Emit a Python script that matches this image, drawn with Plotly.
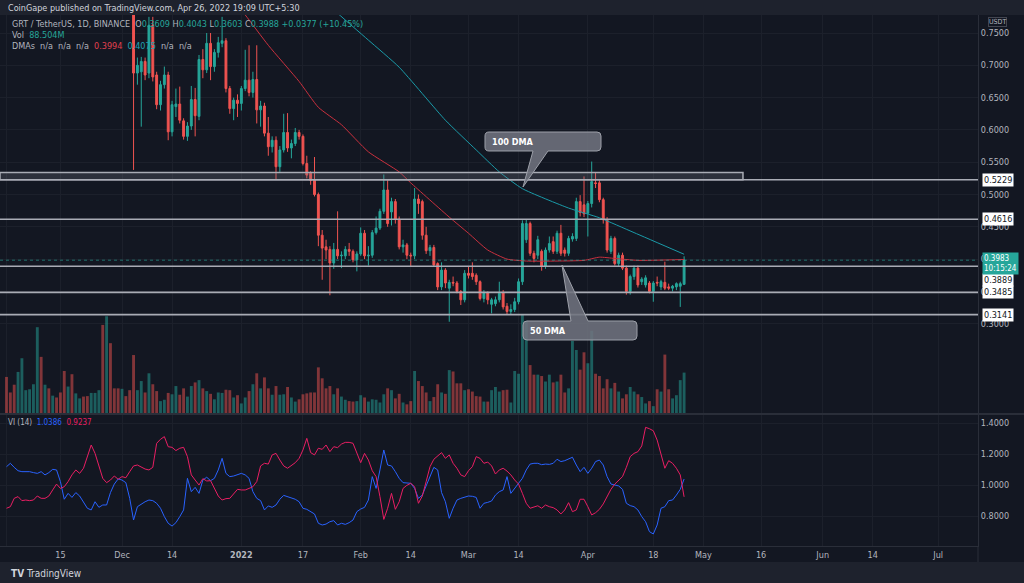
import pandas as pd
import plotly.graph_objects as go

FONT = "Liberation Sans Narrow, DejaVu Sans Condensed, Roboto, sans-serif"
UP = "#26a69a"
DOWN = "#ef5350"
BG = "#131722"
PANEL = "#1e222d"
GRID = "#1c202b"
TXT = "#b2b5be"

# ---- data ----
first_day = "2021-11-01"

opens = [
    .950, .920, .900, .880, .920, .960, .990, 1.020, 1.050, 1.150,
    1.060, 1.090, 1.050, 1.070, 1.030, .990, .930, .960, .920, .940,
    .960, .930, .900, .930, .970, 1.000, .960, 1.080, 1.020, .990,
    .960, .980, .940, .900, .688, .690, .706, .688, .762, .685,
    .639, .670, .685, .597, .636, .640, .614, .590, .606, .647,
    .621, .709, .693, .734, .698, .720, .734, .738, .664, .633,
    .646, .641, .664, .677, .658, .678, .631, .637, .595, .574,
    .584, .543, .569, .596, .572, .579, .596, .590, .548, .533,
    .522, .500, .437, .419, .415, .394, .415, .405, .405, .415,
    .412, .399, .408, .440, .405, .406, .441, .448, .474, .507,
    .473, .489, .462, .419, .422, .406, .405, .493, .489, .437,
    .413, .418, .393, .357, .383, .355, .364, .363, .350, .337,
    .378, .378, .375, .365, .339, .348, .330, .331, .337, .348,
    .327, .319, .322, .334, .365, .430, .455, .409, .406, .412,
    .389, .414, .427, .412, .440, .414, .409, .431, .432, .489,
    .484, .471, .486, .518, .518, .492, .461, .412, .432, .393,
    .406, .386, .350, .373, .386, .365, .360, .363, .350, .364,
    .357, .364, .357, .355, .357, .358, .3609,
]
highs = [
    .962, .930, .908, .925, .968, .998, 1.030, 1.060, 1.180, 1.170,
    1.100, 1.100, 1.080, 1.080, 1.040, 1.000, .970, .965, .948, .970,
    .965, .935, .938, .975, 1.010, 1.080, 1.120, 1.100, 1.030, 1.000,
    .990, .985, .950, .910, .712, .713, .712, .775, .775, .690,
    .676, .698, .690, .645, .664, .667, .618, .612, .668, .665,
    .716, .725, .750, .750, .725, .744, .775, .742, .668, .650,
    .655, .668, .724, .731, .690, .731, .645, .642, .620, .590,
    .590, .575, .625, .626, .585, .603, .600, .593, .560, .536,
    .558, .503, .445, .430, .420, .425, .474, .412, .420, .425,
    .415, .412, .449, .445, .420, .445, .466, .478, .531, .522,
    .495, .493, .466, .430, .425, .410, .510, .500, .492, .450,
    .422, .422, .395, .395, .386, .368, .373, .366, .352, .383,
    .388, .395, .378, .367, .352, .350, .340, .342, .365, .352,
    .332, .330, .340, .370, .460, .461, .458, .413, .436, .415,
    .418, .435, .435, .444, .453, .418, .436, .440, .495, .499,
    .528, .490, .551, .534, .522, .495, .465, .436, .435, .410,
    .410, .390, .376, .390, .390, .372, .375, .366, .366, .373,
    .368, .396, .362, .360, .364, .365, .4043,
]
lows = [
    .912, .895, .870, .872, .912, .950, .982, 1.010, 1.040, 1.040,
    1.045, 1.040, 1.035, 1.020, .980, .915, .920, .905, .910, .932,
    .920, .890, .892, .925, .960, .940, .950, 1.000, .980, .950,
    .950, .930, .895, .538, .670, .605, .677, .680, .675, .632,
    .630, .664, .584, .590, .620, .610, .585, .583, .600, .590,
    .615, .680, .688, .677, .690, .712, .728, .658, .625, .615,
    .620, .630, .660, .652, .650, .610, .605, .590, .560, .565,
    .523, .535, .565, .566, .556, .575, .585, .545, .525, .515,
    .497, .420, .368, .400, .344, .385, .400, .386, .400, .405,
    .395, .381, .405, .400, .390, .402, .438, .445, .470, .450,
    .452, .455, .415, .410, .400, .388, .400, .470, .430, .408,
    .405, .388, .352, .352, .355, .303, .358, .347, .329, .333,
    .370, .368, .360, .336, .333, .330, .316, .327, .333, .322,
    .315, .314, .318, .330, .360, .425, .405, .395, .400, .382,
    .385, .410, .408, .408, .405, .404, .405, .427, .428, .466,
    .465, .435, .480, .510, .488, .455, .410, .408, .390, .388,
    .383, .345, .345, .368, .356, .360, .356, .347, .334, .358,
    .352, .352, .352, .350, .352, .326, .3603,
]
closes = [
    .920, .900, .880, .920, .960, .990, 1.020, 1.050, 1.150, 1.060,
    1.090, 1.050, 1.070, 1.030, .990, .930, .960, .920, .940, .960,
    .930, .900, .930, .970, 1.000, .960, 1.080, 1.020, .990, .960,
    .980, .940, .900, .688, .700, .706, .685, .762, .682, .639,
    .670, .685, .597, .639, .640, .615, .590, .606, .647, .622,
    .709, .693, .734, .698, .720, .735, .738, .664, .633, .646,
    .641, .664, .677, .658, .678, .631, .637, .595, .574, .584,
    .543, .569, .596, .572, .579, .596, .590, .548, .530, .522,
    .500, .437, .417, .414, .394, .415, .405, .406, .415, .412,
    .399, .408, .440, .405, .406, .441, .448, .474, .507, .455,
    .489, .462, .419, .422, .406, .405, .493, .486, .437, .413,
    .418, .391, .357, .383, .363, .364, .363, .350, .337, .378,
    .375, .373, .365, .339, .348, .337, .337, .337, .347, .326,
    .319, .322, .334, .365, .455, .455, .409, .401, .430, .389,
    .414, .424, .412, .440, .409, .409, .432, .435, .489, .472,
    .470, .486, .520, .517, .492, .461, .414, .432, .393, .406,
    .386, .350, .373, .386, .360, .369, .371, .350, .363, .363,
    .365, .355, .355, .358, .362, .362, .3988,
]
volume_m = [
    79, 45, 62, 90, 120, 50, 52, 63, 188, 123,
    62, 54, 38, 34, 45, 92, 58, 85, 43, 32,
    36, 37, 44, 44, 50, 193, 212, 153, 54, 54,
    53, 37, 50, 127, 50, 70, 45, 87, 63, 48,
    26, 29, 44, 41, 59, 40, 54, 36, 59, 67,
    72, 54, 48, 42, 30, 45, 44, 51, 50, 34,
    39, 21, 34, 48, 63, 87, 54, 78, 54, 40,
    59, 40, 41, 57, 34, 25, 30, 41, 43, 45,
    45, 100, 76, 54, 59, 41, 54, 36, 29, 26,
    25, 26, 39, 34, 25, 30, 29, 23, 41, 54,
    50, 32, 42, 23, 19, 26, 92, 70, 59, 45,
    26, 35, 63, 45, 42, 94, 91, 65, 65, 50,
    52, 47, 37, 36, 25, 25, 50, 57, 47, 50,
    51, 23, 92, 86, 217, 202, 105, 84, 84, 81,
    69, 84, 67, 69, 84, 45, 54, 158, 138, 95,
    133, 109, 180, 86, 81, 54, 74, 54, 66, 47,
    32, 41, 57, 47, 41, 35, 21, 26, 15, 52,
    47, 128, 52, 32, 39, 72, 88.504,
]
vi_plus = [
    1.118, 1.140, 1.114, 1.092, 1.086, 1.086, 1.086, 1.080, 1.075, 1.086,
    1.065, 1.080, 1.101, 1.097, 1.022, 0.908, 0.946, 0.920, 0.951, 0.929,
    0.892, 0.850, 0.839, 0.892, 0.856, 0.871, 0.871, 0.951, 1.006, 1.039,
    1.032, 1.015, 0.914, 0.774, 0.860, 0.878, 0.892, 0.903, 0.899, 0.882,
    0.850, 0.796, 0.753, 0.735, 0.757, 0.796, 0.839, 1.043, 0.957, 0.985,
    0.946, 1.032, 1.050, 1.028, 1.043, 1.097, 1.172, 1.075, 1.054, 1.058,
    1.067, 1.075, 1.065, 1.043, 0.957, 0.914, 0.899, 0.839, 0.865, 0.856,
    0.871, 0.908, 0.933, 0.925, 0.914, 0.908, 0.892, 0.850, 0.843, 0.828,
    0.813, 0.753, 0.742, 0.748, 0.763, 0.770, 0.742, 0.753, 0.746, 0.757,
    0.774, 0.828, 0.845, 0.856, 0.903, 1.054, 0.978, 1.097, 1.226, 1.129,
    1.123, 1.086, 1.043, 1.015, 1.011, 1.011, 0.978, 0.914, 0.935, 0.994,
    1.054, 1.114, 1.097, 0.951, 0.892, 0.785, 0.850, 0.903, 0.914, 0.920,
    0.929, 0.927, 0.920, 0.850, 0.882, 0.888, 0.897, 0.935, 0.957, 0.968,
    1.054, 0.946, 0.978, 1.015, 1.043, 1.097, 1.135, 1.140, 1.140, 1.131,
    1.135, 1.133, 1.140, 1.166, 1.151, 1.157, 1.166, 1.179, 1.129, 1.086,
    1.114, 1.075, 1.108, 1.151, 1.161, 1.129, 1.054, 1.006, 1.000, 0.994,
    0.972, 0.882, 0.867, 0.860, 0.839, 0.796, 0.763, 0.699, 0.684, 0.742,
    0.850, 0.860, 0.899, 0.903, 0.935, 0.972, 1.0386,
]
vi_minus = [
    0.850, 0.860, 0.914, 0.925, 0.899, 0.903, 0.899, 0.903, 0.929, 0.914,
    0.914, 0.929, 0.968, 1.006, 0.978, 0.989, 1.022, 1.065, 1.097, 1.075,
    1.108, 1.183, 1.258, 1.204, 1.118, 1.043, 1.015, 1.032, 1.058, 1.037,
    1.054, 1.047, 1.086, 1.123, 1.129, 1.114, 1.103, 1.097, 1.114, 1.269,
    1.295, 1.312, 1.247, 1.243, 1.222, 1.237, 1.243, 1.183, 1.065, 1.032,
    1.000, 1.041, 1.026, 1.028, 0.978, 0.929, 0.903, 0.912, 0.914, 0.942,
    0.972, 0.968, 0.968, 0.978, 0.989, 1.022, 1.123, 1.140, 1.135, 1.194,
    1.204, 1.161, 1.123, 1.108, 1.125, 1.144, 1.172, 1.226, 1.301, 1.209,
    1.194, 1.237, 1.230, 1.258, 1.215, 1.247, 1.241, 1.264, 1.275, 1.275,
    1.269, 1.204, 1.144, 1.204, 1.161, 1.092, 1.054, 0.925, 0.778, 0.850,
    0.946, 0.843, 0.892, 0.978, 0.998, 1.011, 0.989, 0.882, 0.929, 1.022,
    1.118, 1.166, 1.187, 1.209, 1.172, 1.194, 1.140, 1.108, 1.065, 1.054,
    1.092, 1.118, 1.183, 1.172, 1.140, 1.148, 1.123, 1.071, 1.097, 1.108,
    1.090, 1.065, 1.032, 1.006, 0.946, 0.882, 0.850, 0.860, 0.866, 0.850,
    0.871, 0.860, 0.854, 0.839, 0.813, 0.839, 0.886, 0.828, 0.839, 0.908,
    0.908, 0.860, 0.807, 0.821, 0.843, 0.878, 0.925, 0.972, 1.006, 1.032,
    1.054, 1.114, 1.183, 1.204, 1.215, 1.252, 1.372, 1.363, 1.350, 1.290,
    1.204, 1.108, 1.157, 1.140, 1.108, 1.065, 0.9237,
]

dma50_dates = ["2021-12-26", "2022-01-02", "2022-01-08", "2022-01-16", "2022-01-21",
               "2022-01-27", "2022-02-03", "2022-02-11", "2022-02-14", "2022-02-24",
               "2022-03-01", "2022-03-06", "2022-03-11", "2022-03-16", "2022-03-24",
               "2022-03-31", "2022-04-04", "2022-04-08", "2022-04-14", "2022-04-26"]
dma50 = [0.827, 0.778, 0.731, 0.675, 0.635, 0.608, 0.566, 0.535, 0.518, 0.465,
         0.440, 0.414, 0.400, 0.397, 0.397, 0.398, 0.403, 0.401, 0.398, 0.3994]
dma100_dates = ["2022-01-20", "2022-01-25", "2022-02-03", "2022-02-11", "2022-02-23",
                "2022-03-03", "2022-03-09", "2022-03-15", "2022-03-27", "2022-04-04",
                "2022-04-13", "2022-04-26"]
dma100 = [0.817, 0.786, 0.739, 0.697, 0.615, 0.569, 0.535, 0.509, 0.479, 0.464,
          0.441, 0.4075]

levels = [0.5229, 0.4616, 0.3889, 0.3485, 0.3141]
zone_top = 0.534
zone_end = "2022-05-11 07:00"
last_price = 0.3983

tick_dates = ["2021-11-01", "2021-11-15", "2021-12-01", "2021-12-14", "2022-01-01",
              "2022-01-17", "2022-02-01", "2022-02-14", "2022-03-01", "2022-03-14",
              "2022-04-01", "2022-04-18", "2022-05-01", "2022-05-16", "2022-06-01",
              "2022-06-14", "2022-07-01"]
tick_text = ["Nov", "15", "Dec", "14", "<b>2022</b>", "17", "Feb", "14", "Mar", "14",
             "Apr", "18", "May", "16", "Jun", "14", "Jul"]
price_ticks = [0.30, 0.35, 0.40, 0.45, 0.50, 0.55, 0.60, 0.65, 0.70, 0.75]
vi_ticks = [0.8, 1.0, 1.2, 1.4]

# ---- geometry ----
W, H = 1024, 583
ML, MR, MT, MB = 0, 46, 15, 37
PW, PH = W - ML - MR, H - MT - MB
DAY_PX = 3.85


def px(x):
    return x / PW


def py(y):
    return (H - MB - y) / PH


dates = pd.date_range(first_day, periods=len(closes), freq="D")
day0 = pd.Timestamp(first_day)
x_left = day0 - pd.Timedelta(days=6.5 / DAY_PX)
x_right = x_left + pd.Timedelta(days=PW / DAY_PX)

vol_colors = ["rgba(38,166,154,0.5)" if c >= o else "rgba(239,83,80,0.5)"
              for o, c in zip(opens, closes)]

fig = go.Figure()
fig.add_trace(go.Bar(
    x=dates, y=volume_m, marker=dict(color=vol_colors, line=dict(width=0)),
    xaxis="x", yaxis="y2", hoverinfo="skip", showlegend=False,
))
fig.add_trace(go.Candlestick(
    x=dates, open=opens, high=highs, low=lows, close=closes,
    increasing=dict(line=dict(color=UP, width=1), fillcolor=UP),
    decreasing=dict(line=dict(color=DOWN, width=1), fillcolor=DOWN),
    whiskerwidth=0, xaxis="x", yaxis="y", hoverinfo="skip", showlegend=False,
))
fig.add_trace(go.Scatter(
    x=pd.to_datetime(dma50_dates), y=dma50, mode="lines",
    line=dict(color="#c9303e", width=1, shape="spline", smoothing=0.5),
    xaxis="x", yaxis="y", hoverinfo="skip", showlegend=False,
))
fig.add_trace(go.Scatter(
    x=pd.to_datetime(dma100_dates), y=dma100, mode="lines",
    line=dict(color="#1a9aa8", width=1, shape="spline", smoothing=0.5),
    xaxis="x", yaxis="y", hoverinfo="skip", showlegend=False,
))
fig.add_trace(go.Scatter(
    x=dates, y=vi_plus, mode="lines", line=dict(color="#2962ff", width=1),
    xaxis="x2", yaxis="y3", hoverinfo="skip", showlegend=False,
))
fig.add_trace(go.Scatter(
    x=dates, y=vi_minus, mode="lines", line=dict(color="#e91e63", width=1),
    xaxis="x2", yaxis="y3", hoverinfo="skip", showlegend=False,
))

# ---- shapes ----
shapes = [
    dict(type="rect", xref="paper", yref="paper", x0=0, x1=W / PW, y0=py(MT), y1=py(0),
         fillcolor=PANEL, line=dict(width=0), layer="below"),
    dict(type="rect", xref="paper", yref="paper", x0=0, x1=W / PW, y0=py(H), y1=py(562),
         fillcolor=PANEL, line=dict(width=0), layer="below"),
    dict(type="line", xref="paper", yref="paper", x0=0, x1=W / PW, y0=py(414), y1=py(414),
         line=dict(color="#2a2e39", width=2)),
    dict(type="line", xref="paper", yref="paper", x0=1, x1=1, y0=py(546), y1=py(562),
         line=dict(color="#2a2e39", width=1)),
    dict(type="rect", xref="x", yref="y", x0=x_left, x1=pd.Timestamp(zone_end),
         y0=levels[0], y1=zone_top, fillcolor="rgba(120,123,134,0.25)",
         line=dict(color="#a9acb5", width=1.5)),
    dict(type="line", xref="paper", yref="y", x0=0, x1=1, y0=last_price, y1=last_price,
         line=dict(color="rgba(38,166,154,0.6)", width=1, dash="dot")),
]
for lv in levels:
    shapes.append(dict(type="line", xref="paper", yref="y", x0=0, x1=1, y0=lv, y1=lv,
                       line=dict(color="#a9acb5", width=1.6)))


def callout(box, base, tip, r=4):
    x0, y0, x1, y1 = box
    bx0, bx1 = base
    tx, ty = tip
    pts_top = [(x0 + r, y0)]
    pts_bottom = []
    if ty < y0:
        pts_top += [(bx0, y0), (tx, ty), (bx1, y0)]
    else:
        pts_bottom = [(bx1, y1), (tx, ty), (bx0, y1)]

    def p(x, y):
        return f"{px(x):.5f},{py(y):.5f}"

    d = "M" + p(*pts_top[0])
    for q in pts_top[1:]:
        d += " L" + p(*q)
    d += " L" + p(x1 - r, y0) + " Q" + p(x1, y0) + " " + p(x1, y0 + r)
    d += " L" + p(x1, y1 - r) + " Q" + p(x1, y1) + " " + p(x1 - r, y1)
    for q in pts_bottom:
        d += " L" + p(*q)
    d += " L" + p(x0 + r, y1) + " Q" + p(x0, y1) + " " + p(x0, y1 - r)
    d += " L" + p(x0, y0 + r) + " Q" + p(x0, y0) + " " + p(x0 + r, y0) + " Z"
    return dict(type="path", xref="paper", yref="paper", path=d,
                fillcolor="rgba(112,115,126,0.88)", line=dict(color="#9da0a9", width=1))


shapes.append(callout((485, 132, 601, 151), (533, 548), (523, 187)))
shapes.append(callout((523, 321, 637, 340), (571, 588), (562, 265)))

# ---- annotations ----
def span(txt, color):
    return f"<span style='color:{color}'>{txt}</span>"


ann = []


def text_at(x, y, txt, size=9, color=TXT, **kw):
    ann.append(dict(xref="paper", yref="paper", x=px(x), y=py(y), text=txt,
                    showarrow=False, xanchor="left", yanchor="middle",
                    font=dict(family=FONT, size=size, color=color), **kw))


text_at(6, 8, "CoinGape published on TradingView.com, Apr 26, 2022 19:09 UTC+5:30",
        color="#d1d4dc")
text_at(10, 24, "GRT / TetherUS, 1D, BINANCE  O" + span("0.3609", UP) + " H" + span("0.4043", UP)
        + " L" + span("0.3603", UP) + " C" + span("0.3988", UP) + " " + span("+0.0377 (+10.45%)", UP))
text_at(10, 35, "Vol  " + span("88.504M", UP))
text_at(10, 46, "DMAs  n/a  n/a  n/a  " + span("0.3994", "#e0404f") + "  "
        + span("0.4075", "#1fa3b3") + "  n/a  n/a")
text_at(6, 422, "VI (14)  " + span("1.0386", "#2962ff") + "  " + span("0.9237", "#e91e63"), size=8)
text_at(490, 141.5, "<b>100 DMA</b>", size=9, color="#ffffff")
text_at(528, 330.5, "<b>50 DMA</b>", size=9, color="#ffffff")
text_at(9, 573, "<b>TV</b> TradingView", size=10, color="#d1d4dc")

ann.append(dict(xref="paper", yref="paper", x=1, y=py(22), xanchor="left", xshift=10,
                yanchor="middle", text="USDT", showarrow=False,
                font=dict(family=FONT, size=7, color=TXT),
                bordercolor="#434651", borderwidth=1, borderpad=0, bgcolor=BG))

label_shift = {0.3889: -14}
for lv in levels:
    ann.append(dict(xref="paper", yref="y", x=1, y=lv, xanchor="left", xshift=4,
                    yshift=label_shift.get(lv, 0), text=f"{lv:.4f}", showarrow=False,
                    font=dict(family=FONT, size=9, color="#131722"),
                    bgcolor="#ffffff", borderpad=1))
ann.append(dict(xref="paper", yref="y", x=1, y=last_price, xanchor="left", xshift=4,
                yshift=-3, text=f"{last_price:.4f}<br>10:15:24", showarrow=False,
                font=dict(family=FONT, size=8, color="#ffffff"), align="left",
                bgcolor=UP, borderpad=1))

axis_font = dict(family=FONT, size=9, color=TXT)
fig.update_layout(
    width=W, height=H,
    margin=dict(l=ML, r=MR, t=MT, b=MB),
    paper_bgcolor=BG, plot_bgcolor=BG,
    showlegend=False, bargap=0.25,
    font=dict(family=FONT, color=TXT),
    xaxis=dict(domain=[0, 1], anchor="y", type="date", range=[x_left, x_right],
               tickvals=pd.to_datetime(tick_dates), showticklabels=False,
               showgrid=True, gridcolor=GRID, zeroline=False,
               rangeslider=dict(visible=False), fixedrange=True),
    xaxis2=dict(domain=[0, 1], anchor="y3", type="date", matches="x",
                tickvals=pd.to_datetime(tick_dates), ticktext=tick_text,
                tickfont=axis_font, showgrid=True, gridcolor=GRID, zeroline=False,
                showline=True, linecolor="#2a2e39", linewidth=1, ticks=""),
    yaxis=dict(domain=[py(413), 1], anchor="x", side="right",
               range=[0.75 - (413 - 33) / 646, 0.75 + (33 - MT) / 646],
               tickvals=price_ticks, tickformat=".4f", tickfont=axis_font,
               showgrid=True, gridcolor=GRID, zeroline=False,
               showline=True, linecolor="#2a2e39", ticks=""),
    yaxis2=dict(overlaying="y", anchor="x", range=[0, 872], visible=False),
    yaxis3=dict(domain=[0, py(415)], anchor="x2", side="right",
                range=[0.8 - (546 - 516) / 155, 1.4 + (423 - 415) / 155],
                tickvals=vi_ticks, tickformat=".4f", tickfont=axis_font,
                showgrid=True, gridcolor=GRID, zeroline=False,
                showline=True, linecolor="#2a2e39", ticks=""),
    shapes=shapes,
    annotations=ann,
)

# the page's default body margin would push the figure off its intended pixels
fig.write_html("out.html", config={"displayModeBar": False},
               post_script="document.body.style.margin='0';")
